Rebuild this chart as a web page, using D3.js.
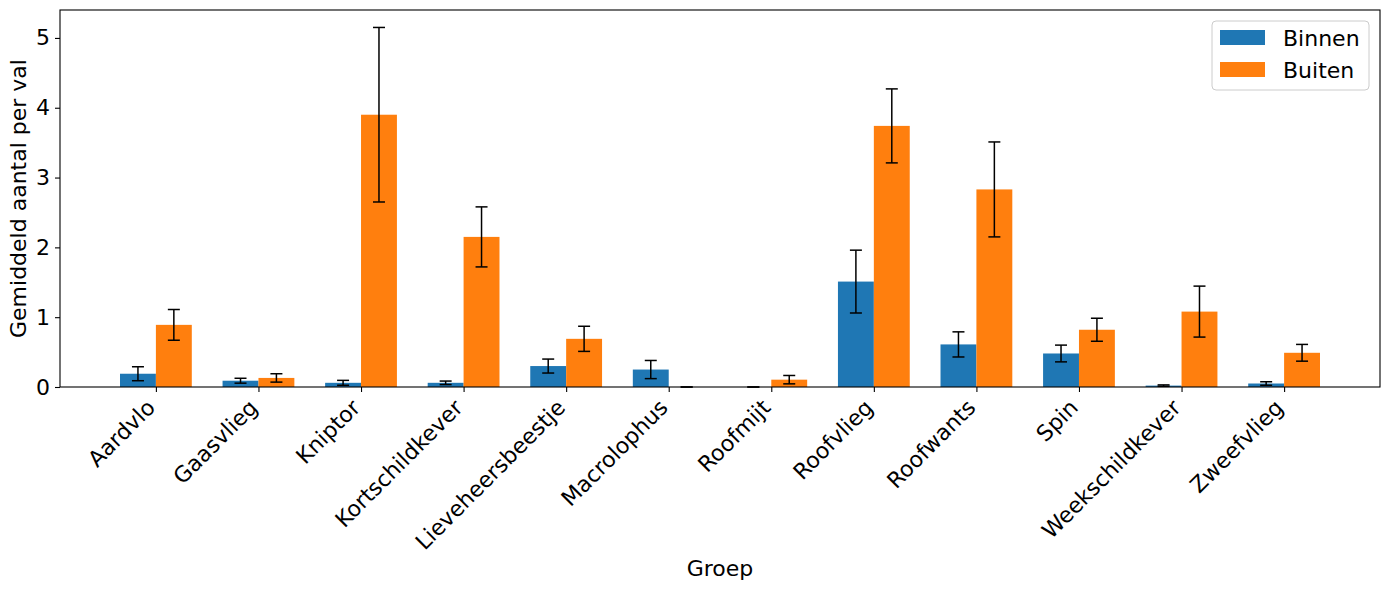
<!DOCTYPE html>
<html>
<head>
<meta charset="utf-8">
<script src="https://cdn.jsdelivr.net/npm/d3@7"></script>
<style>
  body { margin: 0; background: #fff; }
  text { font-family: "DejaVu Sans", sans-serif; }
</style>
</head>
<body>
<svg width="1389" height="590"></svg>
<script>
// data
var groepen = ["Aardvlo", "Gaasvlieg", "Kniptor", "Kortschildkever", "Lieveheersbeestje", "Macrolophus",
               "Roofmijt", "Roofvlieg", "Roofwants", "Spin", "Weekschildkever", "Zweefvlieg"]
var binnen    = [0.19, 0.09, 0.06, 0.06, 0.30, 0.25, 0.00, 1.51, 0.61, 0.48, 0.02, 0.05]
var binnenErr = [0.10, 0.035, 0.035, 0.025, 0.10, 0.13, 0.00, 0.45, 0.18, 0.12, 0.01, 0.025]
var buiten    = [0.89, 0.13, 3.90, 2.15, 0.69, 0.00, 0.105, 3.74, 2.83, 0.82, 1.08, 0.49]
var buitenErr = [0.22, 0.06, 1.25, 0.43, 0.18, 0.00, 0.06, 0.53, 0.68, 0.165, 0.365, 0.12]
var yTicks = [0, 1, 2, 3, 4, 5]

var series = [
  {name: "Binnen", vals: binnen, err: binnenErr, color: "#1f77b4", off: -0.175},
  {name: "Buiten", vals: buiten, err: buitenErr, color: "#ff7f0e", off: 0.175}
]

var mLeft = 60, mRight = 1380, mTop = 10, mBottom = 387
var barW = 0.35
var fs = 22

var svg = d3.select("svg")

var x = d3.scaleLinear().domain([-0.935, groepen.length - 1 + 0.935]).range([mLeft, mRight])
var y = d3.scaleLinear().domain([0, 5.4]).range([mBottom, mTop])

// bars
series.forEach(function(s) {
  var g = svg.append("g")
  g.selectAll("rect")
    .data(s.vals)
    .enter().append("rect")
    .attr("x", function(d, i) { return x(i + s.off - barW / 2) })
    .attr("y", function(d) { return y(d) })
    .attr("width", x(barW) - x(0))
    .attr("height", function(d) { return y(0) - y(d) })
    .attr("fill", s.color)
})

// error bars
series.forEach(function(s) {
  var g = svg.append("g").attr("stroke", "#000").attr("stroke-width", 1.5)
  s.vals.forEach(function(v, i) {
    var cx = x(i + s.off)
    var lo = y(Math.max(0, v - s.err[i])), hi = y(v + s.err[i])
    g.append("line").attr("x1", cx).attr("x2", cx).attr("y1", lo).attr("y2", hi)
    g.append("line").attr("x1", cx - 6).attr("x2", cx + 6).attr("y1", lo).attr("y2", lo)
    g.append("line").attr("x1", cx - 6).attr("x2", cx + 6).attr("y1", hi).attr("y2", hi)
  })
})

// axes
var yAxis = svg.append("g")
  .attr("transform", "translate(" + mLeft + ",0)")
  .call(d3.axisLeft(y).tickValues(yTicks).tickSize(5).tickPadding(5).tickFormat(d3.format("d")))
yAxis.selectAll("text").attr("font-size", fs).attr("fill", "#000").attr("font-family", "DejaVu Sans")

var xAxis = svg.append("g")
  .attr("transform", "translate(0," + mBottom + ")")
  .call(d3.axisBottom(x).tickValues(d3.range(groepen.length)).tickSize(5).tickFormat(function(i) { return groepen[i] }))
xAxis.selectAll("text")
  .attr("font-size", fs).attr("fill", "#000").attr("font-family", "DejaVu Sans")
  .attr("text-anchor", "end")
  .attr("y", 0).attr("dy", 0)
  .attr("transform", "translate(0,22) rotate(-45)")
svg.selectAll(".domain").remove()
svg.selectAll(".tick line").attr("stroke", "#000").attr("stroke-width", 1.1)

// frame
svg.append("rect")
  .attr("x", mLeft).attr("y", mTop).attr("width", mRight - mLeft).attr("height", mBottom - mTop)
  .attr("fill", "none").attr("stroke", "#000").attr("stroke-width", 1.1)

// axis titles
svg.append("text")
  .attr("x", (mLeft + mRight) / 2).attr("y", 576)
  .attr("text-anchor", "middle").attr("font-size", fs)
  .text("Groep")
svg.append("text")
  .attr("transform", "translate(26," + (mTop + mBottom) / 2 + ") rotate(-90)")
  .attr("text-anchor", "middle").attr("font-size", fs)
  .text("Gemiddeld aantal per val")

// legend
var lg = svg.append("g").attr("transform", "translate(1212,21)")
lg.append("rect").attr("width", 157).attr("height", 69).attr("rx", 4)
  .attr("fill", "#fff").attr("fill-opacity", 0.8).attr("stroke", "#ccc")
series.forEach(function(s, i) {
  lg.append("rect").attr("x", 8).attr("y", 9 + i * 32).attr("width", 45).attr("height", 15).attr("fill", s.color)
  lg.append("text").attr("x", 71).attr("y", 25 + i * 32).attr("font-size", fs).text(s.name)
})
</script>
</body>
</html>
